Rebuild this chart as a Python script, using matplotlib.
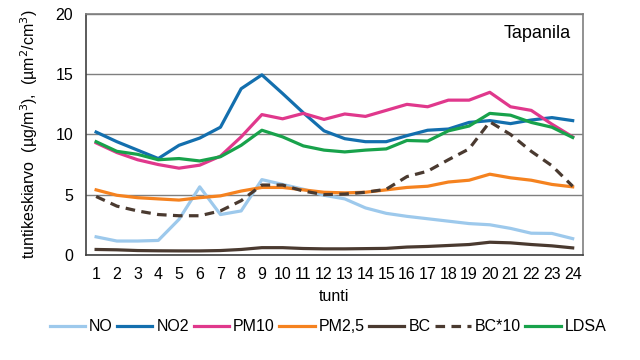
import matplotlib
matplotlib.use('Agg')
import matplotlib.pyplot as plt

plt.rcParams['font.family'] = ['Liberation Sans', 'DejaVu Sans']

hours = list(range(1, 25))

no = [1.5, 1.15, 1.15, 1.2, 2.95, 5.65, 3.35, 3.65, 6.25, 5.85, 5.45, 4.95,
      4.65, 3.9, 3.45, 3.2, 3.0, 2.8, 2.6, 2.5, 2.2, 1.8, 1.78, 1.35]
no2 = [10.2, 9.4, 8.7, 8.0, 9.1, 9.7, 10.6, 13.8, 14.95, 13.4, 11.8, 10.3,
       9.65, 9.4, 9.4, 9.9, 10.35, 10.45, 11.0, 11.15, 10.9, 11.2, 11.4, 11.15]
pm10 = [9.3, 8.5, 7.9, 7.5, 7.2, 7.45, 8.2, 9.8, 11.65, 11.3, 11.75, 11.25,
        11.7, 11.5, 12.0, 12.5, 12.3, 12.85, 12.85, 13.5, 12.3, 12.0, 10.85, 9.8]
pm25 = [5.4, 4.95, 4.75, 4.65, 4.55, 4.75, 4.9, 5.3, 5.6, 5.6, 5.4, 5.2,
        5.15, 5.2, 5.4, 5.6, 5.7, 6.05, 6.2, 6.7, 6.4, 6.2, 5.85, 5.65]
bc = [0.45, 0.42, 0.36, 0.34, 0.33, 0.33, 0.36, 0.45, 0.6, 0.6, 0.53, 0.5,
      0.5, 0.52, 0.54, 0.65, 0.7, 0.78, 0.86, 1.05, 1.0, 0.86, 0.75, 0.58]
bc10 = [4.85, 4.05, 3.65, 3.35, 3.25, 3.25, 3.65, 4.5, 5.8, 5.8, 5.3, 5.0,
        5.05, 5.2, 5.45, 6.5, 6.95, 7.9, 8.8, 11.05, 10.0, 8.6, 7.4, 5.7]
ldsa = [9.4, 8.6, 8.35, 7.9, 8.0, 7.8, 8.15, 9.1, 10.35, 9.8, 9.05, 8.7,
        8.55, 8.7, 8.8, 9.5, 9.45, 10.3, 10.7, 11.75, 11.6, 11.0, 10.6, 9.75]

fig = plt.figure(figsize=(6.4, 3.6), dpi=100)
ax = fig.add_axes([0.134, 0.292, 0.777, 0.669])

lw = 2.3
ax.plot(hours, no, color='#9dc9ec', lw=lw, label='NO')
ax.plot(hours, no2, color='#136fae', lw=lw, label='NO2')
ax.plot(hours, pm10, color='#e0388c', lw=lw, label='PM10')
ax.plot(hours, pm25, color='#f5821f', lw=lw, label='PM2,5')
ax.plot(hours, bc, color='#4a3a30', lw=lw, label='BC')
ax.plot(hours, bc10, color='#4a3a30', lw=lw, ls=(0, (3, 2)), label='BC*10')
ax.plot(hours, ldsa, color='#18a24b', lw=lw, label='LDSA')

ax.set_xlim(0.5, 24.5)
ax.set_ylim(0, 20)
ax.set_xticks(hours)
ax.set_yticks([0, 5, 10, 15, 20])
ax.tick_params(length=0, labelsize=11.5)
ax.tick_params(axis='y', pad=9)
ax.tick_params(axis='x', pad=9)
ax.yaxis.grid(True, color='#7f7f7f', lw=1)
ax.set_axisbelow(True)

for side in ['top', 'right']:
    ax.spines[side].set_color('#7f7f7f')
for side in ['left', 'bottom']:
    ax.spines[side].set_color('#404040')
for s in ax.spines.values():
    s.set_linewidth(1.2)

ax.set_ylabel('tuntikeskiarvo  (µg/m$^3$),  (µm$^2$/cm$^3$)', fontsize=11.5, va='center')
ax.yaxis.set_label_coords(-0.113, 0.5)
ax.set_xlabel('tunti', fontsize=11.5, va='center')
ax.xaxis.set_label_coords(0.5, -0.174)

ax.text(0.975, 0.921, 'Tapanila', transform=ax.transAxes, ha='right', va='center', fontsize=13)

fig.legend(loc='center', bbox_to_anchor=(0.5125, 0.092), ncol=7, frameon=False,
           fontsize=11.5, handlelength=2.2, handletextpad=0.25, columnspacing=0.3)

fig.savefig('out.png', dpi=100)
